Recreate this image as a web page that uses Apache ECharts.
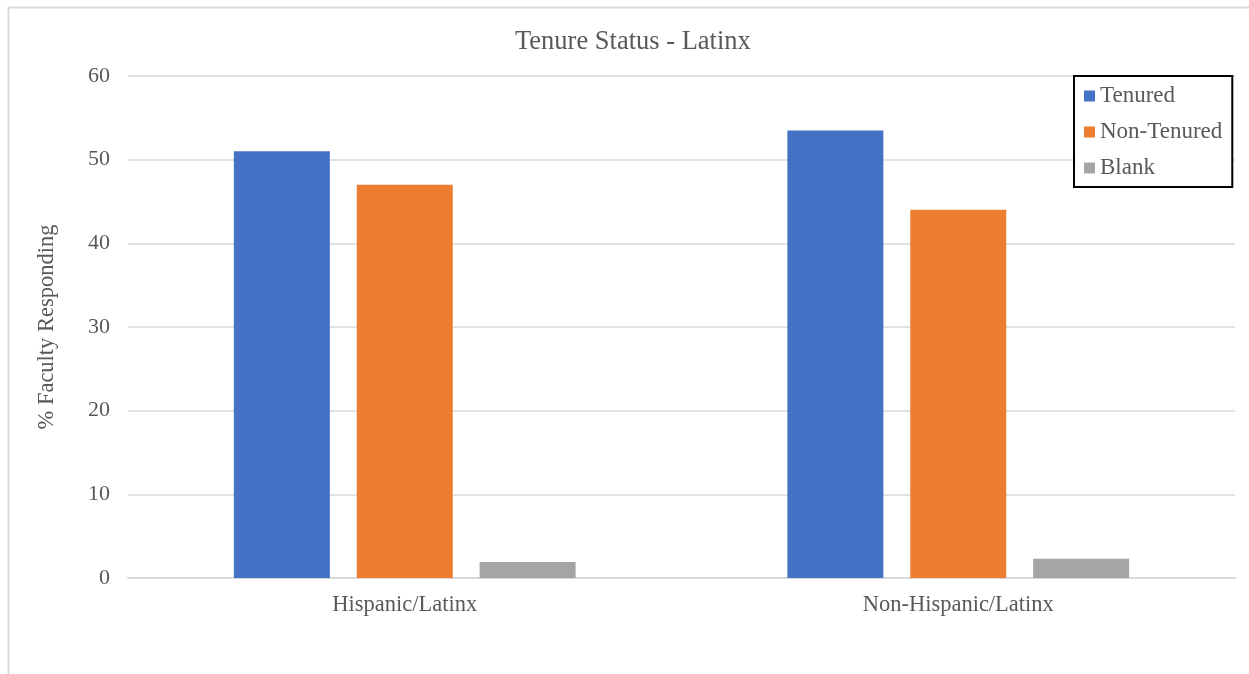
<!DOCTYPE html>
<html>
<head>
<meta charset="utf-8">
<script src="https://cdn.jsdelivr.net/npm/echarts@6/dist/echarts.min.js"></script>
<style>html,body{margin:0;padding:0;background:#fff;}#c{width:1249px;height:674px;}</style>
</head>
<body>
<div id="c"></div>
<script>
const categories = ['Hispanic/Latinx', 'Non-Hispanic/Latinx'];
const tenured = [51, 53.5];
const nonTenured = [47, 44];
const blank = [1.9, 2.3];
const yTicks = [0, 10, 20, 30, 40, 50, 60];

const font = 'Liberation Serif';
const grey = '#595959';
const chart = echarts.init(document.getElementById('c'));
chart.setOption({
  animation: false,
  backgroundColor: '#fff',
  graphic: [{
    type: 'rect', left: 6, top: 5, silent: true,
    shape: { width: 1260, height: 680 },
    style: { fill: 'none', stroke: '#d9d9d9', lineWidth: 2 }
  }],
  title: {
    text: 'Tenure Status - Latinx', left: 510, top: 24,
    textStyle: { fontFamily: font, fontSize: 26.5, fontWeight: 'normal', color: grey }
  },
  legend: {
    orient: 'vertical', left: 1074, top: 76,
    padding: [8, 10, 7, 10], itemGap: 12,
    itemWidth: 11, itemHeight: 11, icon: 'rect',
    borderColor: '#000', borderWidth: 2,
    backgroundColor: '#fff',
    textStyle: { fontFamily: font, fontSize: 23, color: grey, lineHeight: 24 },
    data: ['Tenured', 'Non-Tenured', 'Blank']
  },
  grid: { left: 128, right: 14, top: 76, bottom: 96 },
  xAxis: {
    type: 'category', data: categories,
    axisLine: { lineStyle: { color: '#d9d9d9', width: 2 } },
    axisTick: { show: false },
    axisLabel: { fontFamily: font, fontSize: 22.5, color: grey, margin: 16 }
  },
  yAxis: {
    type: 'value', min: 0, max: 60, interval: 10,
    name: '% Faculty Responding', nameLocation: 'middle', nameGap: 69,
    nameTextStyle: { fontFamily: font, fontSize: 22.5, color: grey },
    axisLine: { show: false }, axisTick: { show: false },
    axisLabel: { fontFamily: font, fontSize: 22, color: grey, margin: 18,
      formatter: v => yTicks.includes(v) ? String(v) : '' },
    splitLine: { lineStyle: { color: '#d9d9d9', width: 1.5 } }
  },
  series: [
    { name: 'Tenured', type: 'bar', data: tenured, barWidth: 96, barGap: '28%',
      itemStyle: { color: '#4472C4' } },
    { name: 'Non-Tenured', type: 'bar', data: nonTenured, barWidth: 96, barGap: '28%',
      itemStyle: { color: '#ED7D31' } },
    { name: 'Blank', type: 'bar', data: blank, barWidth: 96, barGap: '28%',
      itemStyle: { color: '#A5A5A5' } }
  ]
});
</script>
</body>
</html>
